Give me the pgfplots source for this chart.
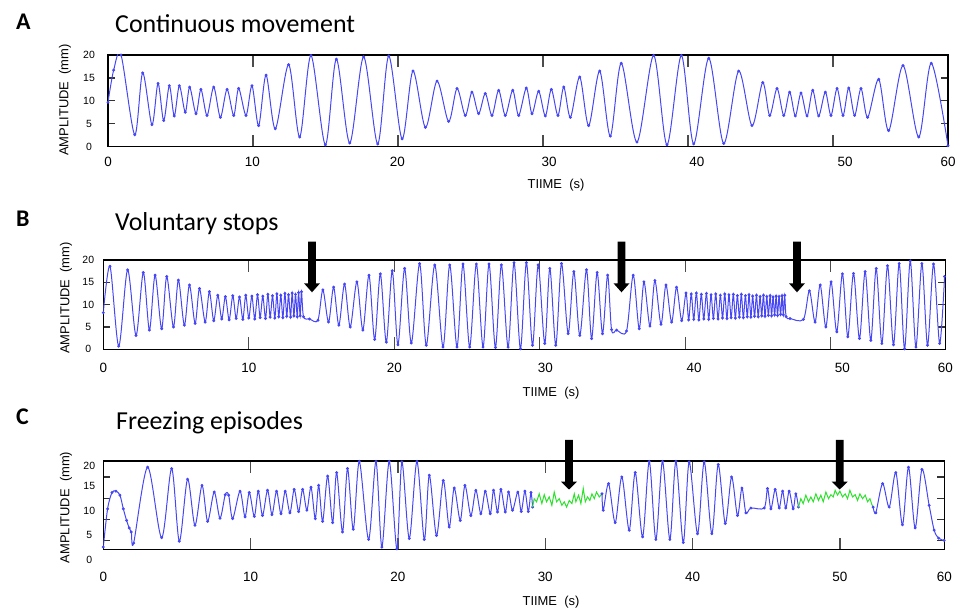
\documentclass[border=0pt]{standalone}
\usepackage{pgfplots}
\pgfplotsset{compat=1.18}
\usepackage{fontspec}
\setmainfont{Liberation Sans}
\newfontfamily\titlefont{Carlito}

\definecolor{wblue}{RGB}{70,70,245}
\definecolor{wdot}{RGB}{25,25,190}
\definecolor{wgreen}{RGB}{45,225,45}

\pgfplotsset{
  panel/.style={
    scale only axis, anchor=south west,
    xmin=0, ymin=0, ymax=20,
    axis line style={line width=1.4bp},
    xtick pos=both, ytick pos=both, tick align=inside,
    major x tick style={draw=none},
    minor xtick={10,20,30,40,50},
    minor tick length=12bp,
    minor x tick style={line width=1.3bp, black!70},
    major tick length=7bp,
    major y tick style={line width=1.3bp, black!80},
    xticklabel style={font=\fontsize{13.5}{14}\selectfont, anchor=center},
    yticklabel style={font=\fontsize{10.5}{11}\selectfont, anchor=center},
    clip mode=individual,
  },
  wave/.style={wblue, line width=1bp, smooth, tension=0.5,
    mark=*, mark size=0.9bp, mark options={draw=none, fill=wdot}},
  frz/.style={wgreen, line width=1bp, no marks},
}

% down arrow: x, shaft top, head base, tip
\newcommand{\stoparrow}[4]{%
  \fill[black] (#1-3.8,#2) -- (#1+3.8,#2) -- (#1+3.8,#3) -- (#1+8,#3)
    -- (#1,#4) -- (#1-8,#3) -- (#1-3.8,#3) -- cycle;}

\begin{document}
\begin{tikzpicture}[x=1bp,y=1bp]
\useasboundingbox (0,0) rectangle (972,611);

% ---------- A: continuous movement ----------
\begin{axis}[panel, at={(108bp,464.3bp)}, width=840bp, height=91.7bp,
  xmax=57.93,
  xtick={0,9.96,19.96,30.42,40.61,50.84,57.93},
  xticklabels={0,10,20,30,40,50,60},
  xticklabel style={yshift=-15bp},
  ytick={0,5,10,15,20}, yticklabels={0,5,10,15,20},
  yticklabel style={xshift=-19bp}]
\addplot[wave] coordinates {
 (0,9.7) (0.39,16.7) (0.90,20.0) (1.84,2.6) (2.39,16.1) (3.03,4.8)
 (3.45,13.8) (3.84,5.7) (4.23,13.3) (4.57,6.7) (4.92,13.3) (5.33,7.5)
 (5.63,13.0) (6.07,7.2) (6.41,12.5) (6.83,6.8) (7.29,13.0) (7.75,6.4)
 (8.21,12.5) (8.67,6.8) (9.01,12.7) (9.52,6.8) (9.93,13.3) (10.39,4.6)
 (10.90,15.6) (11.54,3.9) (12.46,17.9) (13.22,2.1) (14.00,19.9) (14.99,0.4)
 (15.75,19.1) (16.67,0.8) (17.63,19.6) (18.60,0.6) (19.36,19.8) (20.28,1.7)
 (21.03,16.5) (21.89,4.2) (22.69,14.3) (23.49,5.5) (24.07,12.7) (24.64,6.8)
 (25.10,11.9) (25.56,7.2) (26.02,11.6) (26.48,6.8) (26.94,12.3) (27.40,6.8)
 (27.91,12.3) (28.32,6.8) (28.85,12.8) (29.24,7.2) (29.70,12.1) (30.16,6.7)
 (30.57,12.5) (31.03,6.8) (31.43,13.0) (31.89,6.4) (32.53,15.2) (33.15,4.6)
 (33.91,16.5) (34.64,2.3) (35.40,18.2) (36.48,1.0) (37.63,19.9) (38.55,0.4)
 (39.54,19.9) (40.39,0.6) (41.43,19.3) (42.46,0.7) (43.49,16.5) (44.41,4.6)
 (45.15,14.0) (45.63,6.8) (46.14,12.7) (46.60,6.8) (47.01,11.9) (47.40,6.7)
 (47.79,11.7) (48.21,6.7) (48.60,12.3) (49.01,6.7) (49.47,11.9) (49.86,6.8)
 (50.28,12.7) (50.69,6.8) (51.08,12.8) (51.49,6.8) (51.93,12.7) (52.39,6.4)
 (53.15,14.7) (53.84,3.5) (54.83,17.7) (55.91,2.1) (56.78,18.2) (57.93,0.2)
};
\end{axis}

% ---------- B: voluntary stops ----------
\begin{axis}[panel, at={(103.3bp,261.7bp)}, width=842bp, height=89.3bp,
  xmax=57.87,
  xtick={0,10,20,30.39,40.6,50.8,57.87},
  xticklabels={0,10,20,30,40,50,60},
  xticklabel style={yshift=-18.7bp},
  ytick={0,5,10,15,20}, yticklabels={0,5,10,15,20},
  yticklabel style={xshift=-15bp}]
\addplot[wave] coordinates {
 (0,8.2) (0.46,18.6) (1.06,0.7) (1.67,17.8) (2.25,3.1) (2.75,17.2)
 (3.17,4.3) (3.56,16.6) (4.01,4.6) (4.36,16.3) (4.82,5.0) (5.16,15.5)
 (5.57,5.4) (5.92,14.4) (6.31,5.8) (6.61,13.6) (7.00,6.1) (7.29,12.9)
 (7.59,6.4)
 (7.87,12.1) (8.14,6.8) (8.39,11.8) (8.65,6.6) (8.90,12.0) (9.13,6.9)
 (9.36,11.7) (9.59,6.7) (9.79,12.1) (10.00,7.0) (10.21,11.9) (10.41,6.8)
 (10.60,12.2) (10.78,7.1) (10.96,11.9) (11.15,6.9) (11.31,12.3) (11.47,7.2)
 (11.63,12.0) (11.79,7.0) (11.93,12.4) (12.06,7.3) (12.20,12.1) (12.34,7.1)
 (12.48,12.5) (12.61,7.4) (12.73,12.2) (12.87,7.2) (12.98,12.6) (13.10,7.5)
 (13.21,12.3) (13.33,7.3) (13.42,12.7) (13.53,7.5) (13.62,12.9)
 (13.76,7.3) (14.17,6.8) (14.75,6.5)
 (15.09,13.3) (15.48,6.1) (15.83,13.9) (16.19,5.4) (16.58,14.6) (16.97,5.0)
 (17.43,15.1) (17.84,4.3) (18.26,16.6) (18.65,2.2) (19.04,16.9) (19.45,1.6)
 (19.86,17.6) (20.25,1.0) (20.71,18.1) (21.17,1.4) (21.74,19.2) (22.20,0.9)
 (22.78,18.9) (23.35,0.5) (23.81,18.9) (24.31,0.5) (24.72,19.1) (25.18,0.5)
 (25.64,19.1) (26.10,0.5) (26.51,19.1) (26.95,0.4) (27.36,18.9) (27.82,0.5)
 (28.23,19.4) (28.67,0.1) (29.08,19.4) (29.50,0.9) (29.89,18.9) (30.34,1.3)
 (30.69,18.1) (31.10,0.9) (31.49,19.2) (31.95,3.5) (32.34,17.4) (32.75,3.1)
 (33.21,17.8) (33.56,2.4) (33.94,17.2) (34.31,3.5) (34.66,16.6)
 (34.93,4.4) (35.28,4.3) (35.96,4.1)
 (36.42,16.6) (36.83,4.6) (37.16,15.1) (37.57,5.2) (37.91,15.4) (38.33,5.6)
 (38.67,14.4) (39.06,6.1) (39.40,13.9) (39.75,6.4)
 (40.05,12.6) (40.23,6.6) (40.41,12.4) (40.58,6.7) (40.76,12.6) (40.93,6.6)
 (41.10,12.3) (41.27,6.8) (41.45,12.5) (41.61,6.7) (41.77,12.2) (41.93,6.9)
 (42.09,12.4) (42.25,6.8) (42.41,12.1) (42.56,7.0) (42.71,12.4) (42.86,6.9)
 (43.00,12.2) (43.15,7.1) (43.30,12.3) (43.44,7.0) (43.58,12.0) (43.72,7.2)
 (43.85,12.3) (43.99,7.1) (44.13,12.0) (44.26,7.3) (44.38,12.2) (44.51,7.2)
 (44.63,11.9) (44.76,7.4) (44.89,12.1) (45.01,7.3) (45.14,11.8) (45.25,7.5)
 (45.37,12.1) (45.48,7.4) (45.60,11.8) (45.71,7.6) (45.83,12.0) (45.93,7.5)
 (46.03,11.7) (46.14,7.7) (46.24,11.9) (46.34,7.6) (46.44,11.8) (46.55,7.8)
 (46.65,12.0) (46.74,7.7) (46.83,12.1)
 (46.93,7.3) (47.20,6.9) (48.12,6.7)
 (48.53,13.1) (48.92,6.1) (49.27,14.4) (49.66,5.0) (50.02,15.1) (50.41,3.9)
 (50.80,16.9) (51.17,2.8) (51.56,17.0) (51.97,2.4) (52.36,17.4) (52.75,2.0)
 (53.12,18.1) (53.51,1.3) (53.90,18.7) (54.31,1.0) (54.70,19.2) (55.07,0.1)
 (55.46,19.8) (55.85,0.5) (56.26,19.2) (56.65,0.9) (57.06,19.1) (57.48,1.3)
 (57.82,16.3)
};
\end{axis}

% ---------- C: freezing episodes ----------
\begin{axis}[panel, at={(103.3bp,61.3bp)}, width=841bp, height=88.7bp,
  xmax=57.09,
  xtick={0,10,20,30,40,50,57.09},
  xticklabels={0,10,20,30,40,50,60},
  xticklabel style={yshift=-27bp},
  ytick={2.0,6.8,11.5,16.4}, yticklabels={}]
\addplot[wave] coordinates {
 (0,0.6) (0.29,9.2) (0.59,12.9) (0.86,13.2) (1.13,12.3) (1.36,9.2)
 (1.58,6.6) (1.76,4.9) (1.90,4.0) (2.06,1.5) (3.01,18.6) (3.96,2.7)
 (4.64,18.3) (5.16,1.9) (5.72,15.9) (6.22,5.5) (6.70,14.5) (7.08,6.4)
 (7.53,13.0) (7.92,7.1) (8.28,12.4) (8.51,12.3) (8.78,7.0) (9.28,13.2)
 (9.62,7.4) (9.91,12.9) (10.25,7.5) (10.52,13.2) (10.81,7.7) (11.15,13.4)
 (11.45,7.9) (11.76,13.2) (12.06,8.1) (12.35,13.2) (12.67,8.3) (12.96,13.6)
 (13.26,8.6) (13.53,13.6) (13.82,8.9) (14.10,14.1) (14.39,7.0) (14.62,14.5)
 (14.89,6.4) (15.23,16.6) (15.57,6.1) (15.84,17.4) (16.24,4.0) (16.58,18.3)
 (16.97,4.6) (17.38,19.9) (18.01,2.3) (18.51,19.9) (18.91,0.6) (19.41,19.9)
 (19.93,0.2) (20.27,19.8) (20.77,2.5) (21.29,19.9) (21.79,2.3) (22.13,16.8)
 (22.62,3.2) (23.08,15.6) (23.48,5.1) (23.82,13.9) (24.23,6.6) (24.55,14.5)
 (24.95,7.7) (25.29,13.4) (25.63,8.1) (25.93,13.2) (26.27,8.1) (26.49,13.4)
 (26.76,8.5) (26.99,13.6) (27.29,8.5) (27.51,13.0) (27.78,8.9) (28.14,13.0)
 (28.37,8.6) (28.62,13.2) (28.85,8.6) (29.03,12.9) (29.14,9.6)
};
\addplot[frz] coordinates {
 (29.14,9.6) (29.25,11.5) (29.41,10.8) (29.59,12.6) (29.77,10.4) (29.93,12.4)
 (30.09,10.8) (30.27,11.9) (30.45,10.0) (30.61,13.0) (30.77,10.8) (30.95,11.5)
 (31.13,10.0) (31.29,10.8) (31.45,9.6) (31.63,11.1) (31.81,10.4) (31.97,12.6)
 (32.08,10.8) (32.26,12.3) (32.42,10.4) (32.58,13.8) (32.72,10.8) (32.87,11.9)
 (33.03,11.1) (33.17,12.6) (33.33,11.5) (33.48,13.0) (33.67,11.9) (33.85,12.6)
};
\addplot[wave] coordinates {
 (33.85,12.6) (33.94,8.9) (34.30,14.9) (34.75,6.1) (35.20,16.4) (35.70,4.4)
 (36.11,17.4) (36.61,2.9) (37.06,19.9) (37.51,2.3) (37.96,19.9) (38.46,2.3)
 (38.87,19.9) (39.37,1.6) (39.77,19.8) (40.34,3.6) (40.79,19.8) (41.31,3.6)
 (41.74,19.2) (42.22,5.9) (42.65,16.4) (43.05,7.7) (43.35,13.9) (43.62,8.3)
 (43.96,9.4) (44.86,9.4) (45.09,13.8) (45.32,9.2) (45.61,13.6) (45.88,9.4)
 (46.11,13.2) (46.33,9.4) (46.56,13.2) (46.83,9.2) (47.01,12.6) (47.19,9.6)
};
\addplot[frz] coordinates {
 (47.19,9.6) (47.35,11.5) (47.51,10.4) (47.69,12.3) (47.87,10.8) (48.03,11.9)
 (48.19,10.8) (48.37,12.6) (48.55,11.1) (48.71,12.3) (48.87,10.8) (49.05,13.0)
 (49.23,11.5) (49.39,12.4) (49.55,11.9) (49.68,13.4) (49.84,12.3) (50.00,13.2)
 (50.18,11.9) (50.36,12.6) (50.52,11.5) (50.68,13.4) (50.86,11.9) (51.04,12.4)
 (51.20,11.1) (51.36,12.6) (51.54,11.5) (51.72,12.3) (51.88,10.8) (52.04,11.5)
 (52.17,10.2) (52.26,9.6)
};
\addplot[wave] coordinates {
 (52.26,9.6) (52.44,8.3) (52.90,14.9) (53.35,9.6) (53.80,17.4) (54.25,5.6)
 (54.66,18.6) (55.11,4.9) (55.57,18.1) (56.06,10.0) (56.40,4.4) (56.70,2.6)
 (57.08,2.1)
};
\begin{scope}[font=\fontsize{10.5}{11}\selectfont]
\node[xshift=-14bp] at (axis cs:0,18.9) {20};
\node[xshift=-14bp] at (axis cs:0,14.4) {15};
\node[xshift=-14bp] at (axis cs:0,8.7) {10};
\node[xshift=-14bp] at (axis cs:0,3.3) {5};
\node[xshift=-14bp] at (axis cs:0,-2.2) {0};
\end{scope}
\end{axis}

% ---------- titles and labels ----------
\begin{scope}[every node/.style={anchor=base west, inner sep=0}]
\node[font=\titlefont\bfseries\fontsize{24}{28}\selectfont] at (16,581.7) {A};
\node[font=\titlefont\fontsize{26}{30}\selectfont] at (115,578) {Continuous movement};
\node[font=\titlefont\bfseries\fontsize{24}{28}\selectfont] at (16,384.3) {B};
\node[font=\titlefont\fontsize{26}{30}\selectfont] at (115,380.3) {Voluntary stops};
\node[font=\titlefont\bfseries\fontsize{24}{28}\selectfont] at (16,186) {C};
\node[font=\titlefont\fontsize{26}{30}\selectfont] at (116,181.7) {Freezing episodes};
\end{scope}

\begin{scope}[font=\fontsize{13}{14}\selectfont]
\node[rotate=90] at (65,511) {AMPLITUDE\ \ (mm)};
\node[rotate=90] at (66,313) {AMPLITUDE\ \ (mm)};
\node[rotate=90] at (66,103.5) {AMPLITUDE\ \ (mm)};
\node at (556,426) {TIIME\ \ (s)};
\node at (551,218) {TIIME\ \ (s)};
\node at (551,9) {TIIME\ \ (s)};
\end{scope}

\stoparrow{312}{369.3}{327.7}{318.7}
\stoparrow{621.5}{369.3}{327.7}{318.7}
\stoparrow{797}{369.3}{327.7}{318.7}
\stoparrow{569}{171}{129.3}{121.5}
\stoparrow{839.7}{171}{129.3}{121.5}
\end{tikzpicture}
\end{document}
